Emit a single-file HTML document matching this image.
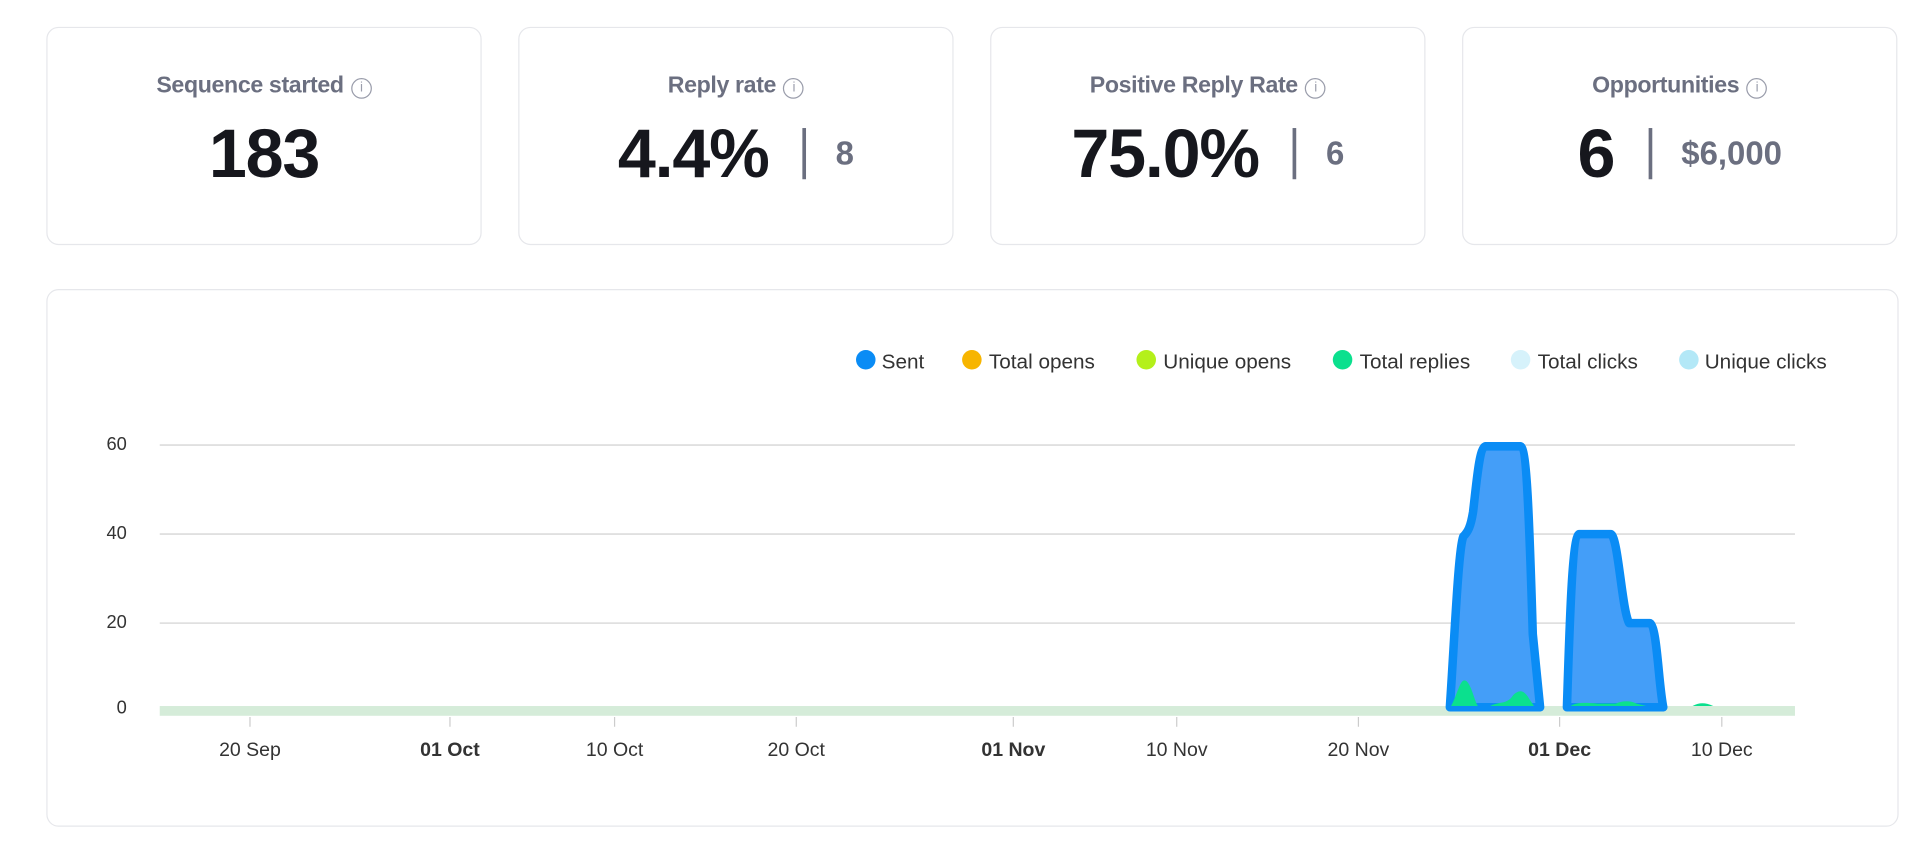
<!DOCTYPE html>
<html><head><meta charset="utf-8"><style>
html,body{margin:0;padding:0;background:#fff;width:1912px;height:844px;overflow:hidden}
#w{position:absolute;left:0;top:0;width:1568px;height:692px;transform:scale(1.2194);transform-origin:0 0;font-family:"Liberation Sans",sans-serif}
.card{position:absolute;top:22px;width:355px;height:177px;border:1px solid #e6e7eb;border-radius:10px;background:#fff}
.t{position:absolute;top:37px;left:0;right:0;text-align:center;font-size:19px;font-weight:bold;color:#6b6f80;letter-spacing:-0.3px}
.i{display:inline-block;width:15px;height:15px;border:1.5px solid #9a9dab;border-radius:50%;font-size:11px;line-height:15px;color:#9a9dab;vertical-align:1px;margin-left:6px;font-weight:normal}
.n{position:absolute;top:70px;left:0;right:0;text-align:center;font-size:56px;font-weight:bold;color:#16171d;letter-spacing:-1px;white-space:nowrap}
.s{font-size:27px;color:#6b6f80;vertical-align:10px;letter-spacing:0}
.bar{display:inline-block;width:3px;height:42px;background:#6b6f80;margin:0 24px 0 28px;vertical-align:-2px}
.chart{position:absolute;left:38px;top:237px;width:1517px;height:439px;border:1px solid #e6e7eb;border-radius:10px}
</style></head><body><div id="w">
<div class="card" style="left:38px"><div class="t">Sequence started<span class="i">i</span></div><div class="n">183</div></div>
<div class="card" style="left:425px"><div class="t">Reply rate<span class="i">i</span></div><div class="n">4.4%<span class="bar"></span><span class="s">8</span></div></div>
<div class="card" style="left:812px"><div class="t">Positive Reply Rate<span class="i">i</span></div><div class="n">75.0%<span class="bar"></span><span class="s">6</span></div></div>
<div class="card" style="left:1199px"><div class="t">Opportunities<span class="i">i</span></div><div class="n">6<span class="bar"></span><span class="s">$6,000</span></div></div>
<div class="chart"></div>
<svg style="position:absolute;left:0;top:0" width="1568" height="692" font-family="Liberation Sans, sans-serif">
<g font-size="17" fill="#333">
<circle cx="710" cy="295" r="8" fill="#0a8cf5"/><text x="723" y="302">Sent</text>
<circle cx="797" cy="295" r="8" fill="#f7b500"/><text x="811" y="302">Total opens</text>
<circle cx="940" cy="295" r="8" fill="#b4f01a"/><text x="954" y="302">Unique opens</text>
<circle cx="1101" cy="295" r="8" fill="#0be08e"/><text x="1115" y="302">Total replies</text>
<circle cx="1247" cy="295" r="8" fill="#d6f2fb"/><text x="1261" y="302">Total clicks</text>
<circle cx="1385" cy="295" r="8" fill="#b3e8f7"/><text x="1398" y="302">Unique clicks</text>
</g>
<g stroke="#e0e0e0" stroke-width="1.5">
<line x1="131" y1="365" x2="1472" y2="365"/><line x1="131" y1="438" x2="1472" y2="438"/><line x1="131" y1="511" x2="1472" y2="511"/>
</g>
<g font-size="15" fill="#333" text-anchor="end">
<text x="104" y="369">60</text><text x="104" y="442">40</text><text x="104" y="515">20</text><text x="104" y="585">0</text>
</g>
<rect x="131" y="579" width="1341" height="8" fill="#d5ecd9"/>
<g stroke="#ccc" stroke-width="1">
<line x1="205" y1="588" x2="205" y2="596"/><line x1="369" y1="588" x2="369" y2="596"/><line x1="504" y1="588" x2="504" y2="596"/><line x1="653" y1="588" x2="653" y2="596"/><line x1="831" y1="588" x2="831" y2="596"/><line x1="965" y1="588" x2="965" y2="596"/><line x1="1114" y1="588" x2="1114" y2="596"/><line x1="1279" y1="588" x2="1279" y2="596"/><line x1="1412" y1="588" x2="1412" y2="596"/>
</g>
<g font-size="16" fill="#333" text-anchor="middle">
<text x="205" y="620">20 Sep</text><text x="369" y="620" font-weight="bold">01 Oct</text><text x="504" y="620">10 Oct</text><text x="653" y="620">20 Oct</text><text x="831" y="620" font-weight="bold">01 Nov</text><text x="965" y="620">10 Nov</text><text x="1114" y="620">20 Nov</text><text x="1279" y="620" font-weight="bold">01 Dec</text><text x="1412" y="620">10 Dec</text>
</g>
<path d="M1189,580 C1193,520 1196,450 1200,440 C1204,436 1206,432 1208,420 C1211,395 1213,368 1218,366 L1247,366 C1252,368 1254,420 1257,520 L1263,580 Z" fill="#449ef8" stroke="#0a8cf5" stroke-width="7" stroke-linejoin="round"/>
<path d="M1285,580 C1287,520 1289,440 1295,438 L1321,438 C1327,440 1330,500 1336,511 L1353,511 C1359,514 1360,560 1364,580 Z" fill="#449ef8" stroke="#0a8cf5" stroke-width="7" stroke-linejoin="round"/>
<path d="M1190,579 C1195,570 1197,558 1201,558 C1206,558 1209,575 1212,579 L1222,579 C1230,575 1236,578 1241,570 C1246,565 1250,566 1254,573 L1258,579 Z" fill="#0be08e"/>
<path d="M1288,579 C1292,576 1300,576 1310,577 L1325,577 C1330,575 1336,574 1342,577 L1350,579 Z" fill="#0be08e"/>
<path d="M1388,579 C1394,576 1398,576 1405,579 Z" fill="#0be08e"/>
</svg>
</div></body></html>
